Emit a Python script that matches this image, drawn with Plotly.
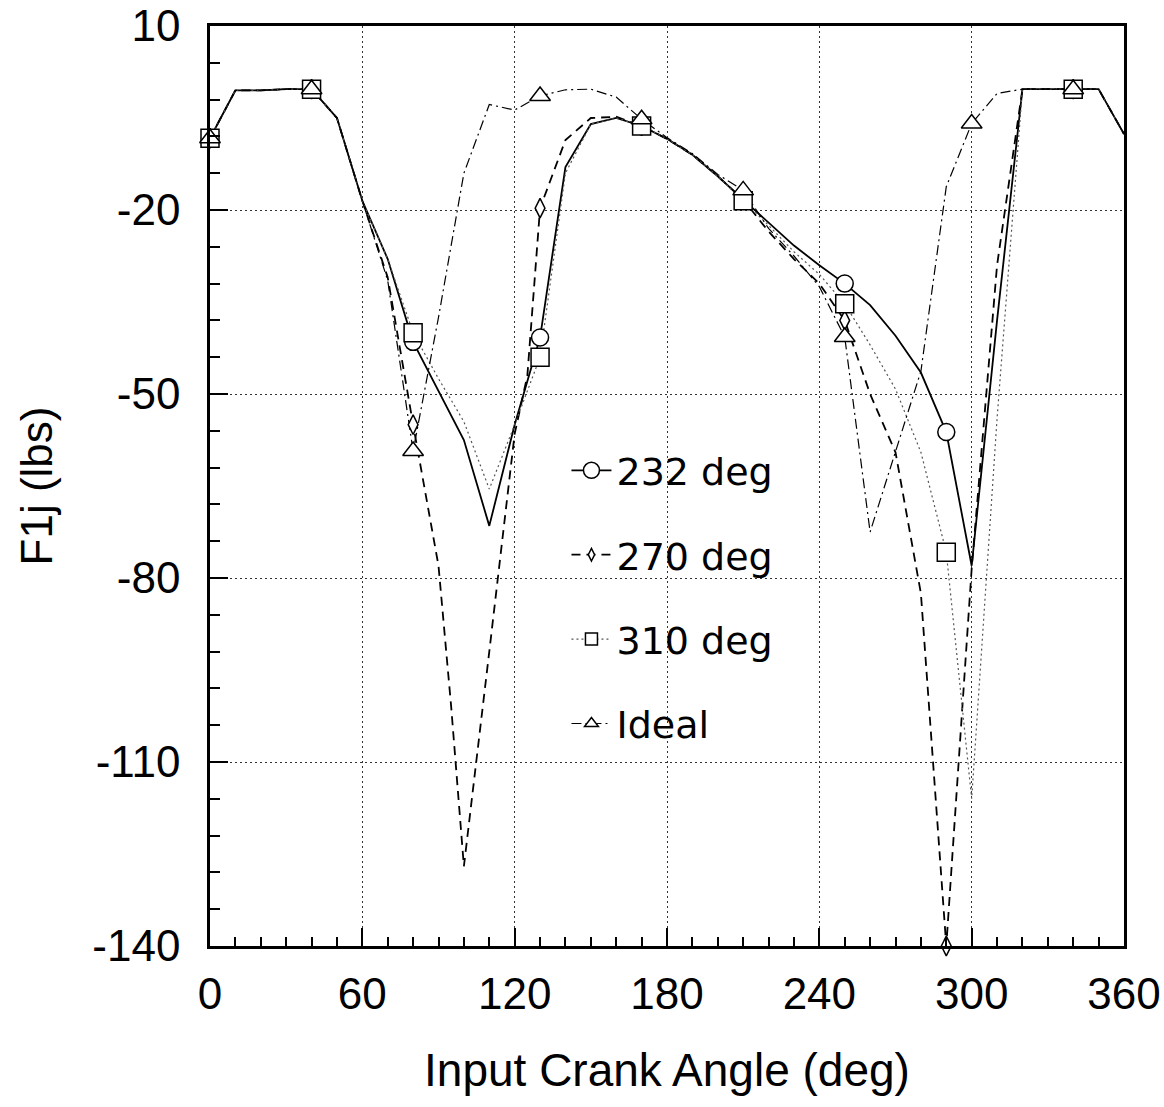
import plotly.graph_objects as go

# ---------------- data ----------------
angles = [0, 10, 20, 30, 40, 50, 60, 70, 80, 90, 100, 110, 120, 130, 140, 150,
          160, 170, 180, 190, 200, 210, 220, 230, 240, 250, 260, 270, 280, 290,
          300, 310, 320, 330, 340, 350, 360]

f_232 = [-8.3, -0.5, -0.5, -0.3, -0.3, -5, -18.5, -28, -41.5, -49.5, -57.5, -71.5,
         -55, -40.8, -13, -6, -5, -6.3, -8.4, -11, -14.5, -18.3, -22, -25.8, -29,
         -32, -35.5, -40.5, -46.5, -56.2, -78, -38, -0.3, -0.3, -0.3, -0.3, -7.6]

angles_270 = [0, 10, 20, 30, 40, 50, 60, 70, 80, 90, 95, 100, 110, 120, 125, 130,
              140, 150, 160, 170, 180, 190, 200, 210, 220, 230, 240, 250, 260, 270,
              280, 290, 300, 310, 320, 330, 340, 350, 360]
f_270 = [-8.3, -0.5, -0.5, -0.3, -0.3, -5, -18.5, -31, -55, -78, -101, -127, -92,
         -56.5, -47, -19.7, -8.6, -5, -4.8, -6.3, -8.4, -11, -14.5, -18.3, -23.5,
         -28, -32, -38, -50, -59.5, -82.5, -140, -78.5, -29, -0.3, -0.3, -0.3, -0.3,
         -7.6]

f_310 = [-8.3, -0.5, -0.5, -0.3, -0.3, -5, -18.5, -28, -40, -47.5, -54.5, -65.5,
         -55, -44, -14, -6, -5, -6.3, -8.4, -11, -14.5, -18.5, -22.5, -26.8, -30.5,
         -35.3, -42, -49.2, -59.5, -75.8, -116, -54, -0.3, -0.3, -0.3, -0.3, -7.6]

f_ideal = [-8.3, -0.5, -0.5, -0.3, -0.3, -5, -18.5, -31.5, -59.3, -37.5, -14, -2.8,
           -3.7, -1.4, -0.4, -0.3, -1.6, -5.2, -8.2, -10.8, -14.2, -16.8, -23, -27.5,
           -32.5, -40.7, -72.5, -59.5, -46.3, -16.2, -5.9, -1, -0.3, -0.3, -0.3, -0.3,
           -7.6]

marker_angles = [0, 40, 80, 130, 170, 210, 250, 290, 340]
marker_angles_ideal = [0, 40, 80, 130, 170, 210, 250, 300, 340]

series_names = ["232 deg", "270 deg", "310 deg", "Ideal"]
x_ticks = [0, 60, 120, 180, 240, 300, 360]
y_ticks = [10, -20, -50, -80, -110, -140]
y_tick_labels = ["10", "-20", "-50", "-80", "-110", "-140"]
x_title = "Input Crank Angle (deg)"
y_title = "F1j (lbs)"

# ---------------- styles ----------------
FONT = "Liberation Sans, Arial, Helvetica, sans-serif"
styles = [
    dict(dash="solid", width=1.8, color="black", symbol="circle", msize=17, lsize=16),
    dict(dash="9px,6px", width=1.8, color="black", symbol="diamond-tall", msize=14, lsize=9),
    dict(dash="2px,3px", width=1.2, color="#555555", symbol="square", msize=18, lsize=12),
    dict(dash="10px,4px,2px,4px", width=1.2, color="black", symbol="triangle-up", msize=18, lsize=12),
]
series = [
    (angles, f_232, marker_angles),
    (angles_270, f_270, marker_angles),
    (angles, f_310, marker_angles),
    (angles, f_ideal, marker_angles_ideal),
]

fig = go.Figure()

# lines
for (xs, ys, _), st in zip(series, styles):
    fig.add_trace(go.Scatter(
        x=xs, y=ys, mode="lines", showlegend=False, hoverinfo="skip",
        line=dict(color=st["color"], width=st["width"], dash=st["dash"]),
    ))

# markers (values looked up from the series)
for (xs, ys, mks), st in zip(series, styles):
    my = [ys[xs.index(a)] for a in mks]
    fig.add_trace(go.Scatter(
        x=mks, y=my, mode="markers", showlegend=False, hoverinfo="skip",
        cliponaxis=False,
        marker=dict(symbol=st["symbol"], size=st["msize"], color="white",
                    line=dict(color="black", width=1.5)),
    ))

# legend entries
for name, st in zip(series_names, styles):
    fig.add_trace(go.Scatter(
        x=[None], y=[None], mode="lines+markers", name=name, legendgroup=name,
        line=dict(color=st["color"], width=st["width"], dash=st["dash"]),
        marker=dict(symbol=st["symbol"], size=st["lsize"], color="white",
                    line=dict(color="black", width=1.5)),
    ))

fig.update_layout(
    width=1164, height=1107,
    margin=dict(l=210, r=40, t=26, b=161, autoexpand=False),
    paper_bgcolor="white", plot_bgcolor="white",
    font=dict(family=FONT, color="black"),
    showlegend=True,
    legend=dict(
        x=0.39, y=0.551, xanchor="left", yanchor="top",
        bgcolor="rgba(0,0,0,0)", borderwidth=0,
        font=dict(family="DejaVu Sans, sans-serif", size=38, color="black"),
        tracegroupgap=32, itemwidth=40,
    ),
    xaxis=dict(
        range=[0, 360], tickmode="array", tickvals=x_ticks,
        ticks="inside", ticklen=18, tickwidth=2, tickcolor="black",
        minor=dict(dtick=10, ticks="inside", ticklen=9, tickwidth=1.5,
                   tickcolor="black", showgrid=False),
        showline=True, linewidth=2.5, linecolor="black", mirror=True,
        showgrid=True, gridcolor="#333333", gridwidth=1, griddash="2px,3px",
        zeroline=False, tickfont=dict(size=44, family=FONT),
        ticklabelstandoff=7, automargin=False,
        title=dict(text=x_title, font=dict(size=46, family=FONT), standoff=38),
    ),
    yaxis=dict(
        range=[-140, 10], tickmode="array", tickvals=y_ticks, ticktext=y_tick_labels,
        ticks="inside", ticklen=18, tickwidth=2, tickcolor="black",
        minor=dict(tick0=-140, dtick=6, ticks="inside", ticklen=10, tickwidth=1.5,
                   tickcolor="black", showgrid=False),
        showline=True, linewidth=2.5, linecolor="black", mirror=True,
        showgrid=True, gridcolor="#333333", gridwidth=1, griddash="2px,3px",
        zeroline=False, tickfont=dict(size=44, family=FONT),
        ticklabelstandoff=18, automargin=False,
        title=dict(text=y_title, font=dict(size=44, family=FONT), standoff=26),
    ),
)

fig.write_html("out.html")
